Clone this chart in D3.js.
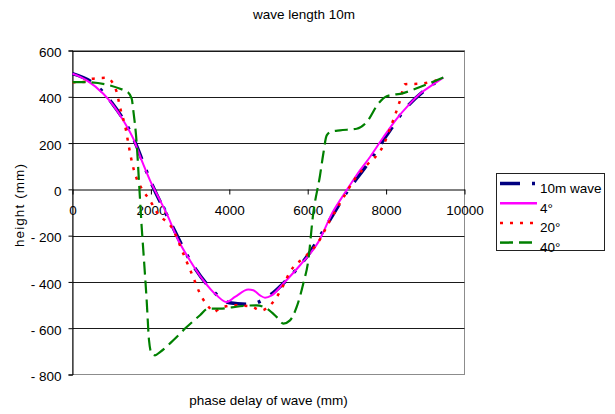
<!DOCTYPE html>
<html>
<head>
<meta charset="utf-8">
<script src="https://cdn.jsdelivr.net/npm/d3@7"></script>
<style>
  body { margin: 0; background: #fff; }
  text { font-family: "Liberation Sans", Arial, sans-serif; fill: #000; }
</style>
</head>
<body>
<svg id="chart" width="615" height="414"></svg>
<script>
// Axis ticks
const xTicks = [0, 2000, 4000, 6000, 8000, 10000];
const yTicks = [600, 400, 200, 0, -200, -400, -600, -800];
const seriesNames = ["10m wave", "4°", "20°", "40°"];

// 10m wave
const waveX = [0, 500, 1000, 1500, 2000, 2500, 3000, 3500, 4000, 4500, 5000, 5500, 6000, 6500, 7000, 7500, 8000, 8500, 9000, 9460];
const waveY = [500, 462, 375, 240, 32, -143, -307, -424, -490, -497, -462, -385, -286, -150, -11, 103, 230, 350, 430, 483];

// 4 degrees
const tilt4X = [0, 362, 786, 1041, 1296, 1551, 1765, 1977, 2189, 2403, 2699, 2997, 3337, 3678, 3934, 4145, 4485, 4612, 4783, 4911, 5081, 5378, 5804, 6270, 6650, 6950, 7250, 7589, 7929, 8270, 8567, 8865, 9163, 9460];
const tilt4Y = [500, 471, 413, 363, 298, 219, 125, 39, -33, -105, -220, -307, -393, -458, -487, -465, -433, -436, -458, -468, -458, -407, -328, -228, -95, -15, 62, 140, 225, 305, 363, 413, 449, 483];

// 20 degrees
const tilt20X = [0, 340, 490, 872, 1041, 1128, 1212, 1365, 1425, 1535, 1638, 1765, 1977, 2148, 2571, 2827, 3040, 3296, 3508, 3593, 3763, 4100, 4528, 4827, 4995, 5210, 5378, 5548, 5974, 6270, 6550, 6867, 7207, 7505, 7929, 8099, 8227, 8355, 8482, 8865, 9120, 9460];
const tilt20Y = [463, 465, 478, 482, 455, 420, 355, 255, 197, 104, 46, 3, -48, -98, -176, -278, -364, -465, -515, -530, -515, -501, -505, -523, -508, -465, -415, -357, -285, -228, -140, -48, 46, 104, 190, 262, 320, 384, 454, 457, 463, 483];

// 40 degrees
const tilt40X = [0, 344, 1383, 1510, 1551, 1638, 1704, 1765, 1806, 1892, 1952, 2020, 2105, 2232, 2571, 2913, 3253, 3464, 3763, 4273, 4699, 4954, 5210, 5378, 5548, 5719, 5888, 6015, 6135, 6314, 6398, 6485, 6612, 6824, 7250, 7505, 7800, 8015, 8440, 8865, 9460];
const tilt40Y = [463, 463, 423, 392, 341, 197, 10, -163, -263, -479, -652, -710, -717, -703, -652, -595, -544, -515, -515, -505, -501, -515, -552, -580, -566, -508, -407, -307, -112, 60, 154, 233, 250, 255, 262, 291, 370, 402, 416, 442, 483];

const svg = d3.select("#chart");
const plotL = 72.5, plotR = 464.5, plotT = 50.5, plotB = 374.5;

const x = d3.scaleLinear().domain([0, 10000]).range([plotL, plotR]);
const y = d3.scaleLinear().domain([-800, 600]).range([plotB, plotT]);

// Title and axis titles
svg.append("text").attr("x", 304).attr("y", 18.5).attr("text-anchor", "middle")
  .style("font-size", "13.5px").text("wave length 10m");
svg.append("text").attr("x", 268.5).attr("y", 405).attr("text-anchor", "middle")
  .style("font-size", "13.5px").text("phase delay of wave (mm)");
svg.append("text").attr("transform", "translate(24,205) rotate(-90)").attr("text-anchor", "middle")
  .style("font-size", "13.5px").style("letter-spacing", "1.1px").text("height (mm)");

// Plot area border
svg.append("rect").attr("x", plotL).attr("y", plotT).attr("width", plotR - plotL).attr("height", plotB - plotT)
  .attr("fill", "none").attr("stroke", "#8c8c8c").attr("stroke-width", 1);

// Horizontal gridlines
svg.append("g").selectAll("line").data(yTicks.filter(d => d !== -800 && d !== 0)).join("line")
  .attr("x1", plotL).attr("x2", plotR)
  .attr("y1", d => Math.round(y(d)) + 0.5).attr("y2", d => Math.round(y(d)) + 0.5)
  .attr("stroke", "#1a1a1a").attr("stroke-width", 1);

// Y axis (left)
const yAxis = d3.axisLeft(y).tickValues(yTicks).tickSize(4).tickPadding(7)
  .tickFormat(d => d < 0 ? "- " + Math.abs(d) : String(d));
const gy = svg.append("g").attr("transform", `translate(${plotL},0)`).call(yAxis);
gy.select(".domain").attr("stroke", "#000");
gy.selectAll(".tick line").attr("stroke", "#000");
gy.selectAll(".tick text").style("font-size", "13.5px").attr("font-family", null).attr("dy", "0.45em");

// X axis drawn across the zero line
const xAxis = d3.axisBottom(x).tickValues(xTicks).tickSize(5).tickPadding(11).tickSizeOuter(0)
  .tickFormat(d => String(d));
const gx = svg.append("g").attr("transform", `translate(0,${Math.round(y(0)) + 0.5})`).call(xAxis);
gx.select(".domain").attr("stroke", "#000");
gx.selectAll(".tick line").attr("stroke", "#000");
gx.selectAll(".tick text").style("font-size", "13.5px").attr("font-family", null);

// Series
const series = [
  { name: seriesNames[0], xs: waveX, ys: waveY, color: "#000080", width: 3.5, dash: "20,12,3,12" },
  { name: seriesNames[1], xs: tilt4X, ys: tilt4Y, color: "#ff00ff", width: 2, dash: null },
  { name: seriesNames[2], xs: tilt20X, ys: tilt20Y, color: "#ff0000", width: 2.5, dash: "3,7" },
  { name: seriesNames[3], xs: tilt40X, ys: tilt40Y, color: "#008000", width: 2.2, dash: "13,6" }
];

const line = d3.line().x(d => x(d[0])).y(d => y(d[1])).curve(d3.curveMonotoneX);

svg.append("g").selectAll("path").data(series).join("path")
  .attr("d", s => line(s.xs.map((v, i) => [v, s.ys[i]])))
  .attr("fill", "none")
  .attr("stroke", s => s.color)
  .attr("stroke-width", s => s.width)
  .attr("stroke-dasharray", s => s.dash);

// Legend
const lg = svg.append("g");
lg.append("rect").attr("x", 496.5).attr("y", 173.5).attr("width", 108).attr("height", 77)
  .attr("fill", "#fff").attr("stroke", "#222").attr("stroke-width", 1);
const items = lg.selectAll("g.item").data(series).join("g").attr("class", "item")
  .attr("transform", (d, i) => `translate(0,${183.5 + i * 19.7})`);
items.append("line").attr("x1", 500).attr("x2", 537).attr("y1", 0).attr("y2", 0)
  .attr("stroke", d => d.color).attr("stroke-width", d => Math.max(d.width, 2.5))
  .attr("stroke-dasharray", d => d.dash);
items.append("text").attr("x", 540).attr("y", 9.5).style("font-size", "13.5px").text(d => d.name);
</script>
</body>
</html>
